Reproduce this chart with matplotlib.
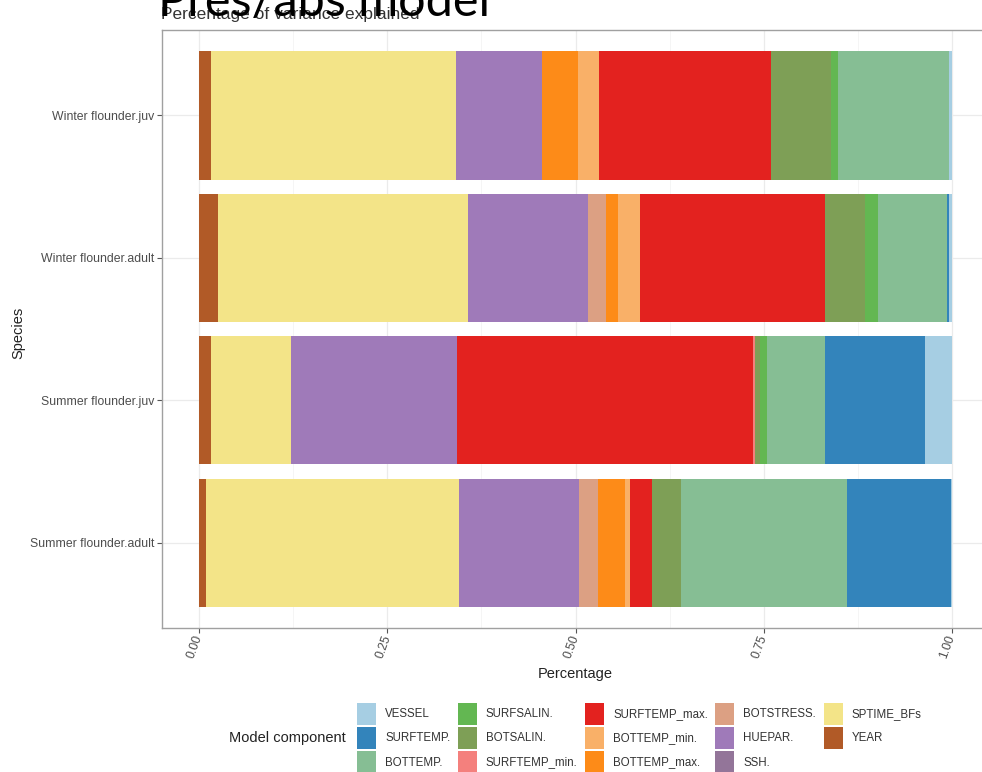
import matplotlib
matplotlib.use("Agg")
import matplotlib.pyplot as plt
from matplotlib.patches import Patch
import numpy as np

# ---- data ----
species = ["Winter flounder.juv", "Winter flounder.adult",
           "Summer flounder.juv", "Summer flounder.adult"]
# components in stacking order (left to right)
components = ["YEAR", "SPTIME_BFs", "SSH.", "HUEPAR.", "BOTSTRESS.",
              "BOTTEMP_max.", "BOTTEMP_min.", "SURFTEMP_max.", "SURFTEMP_min.",
              "BOTSALIN.", "SURFSALIN.", "BOTTEMP.", "SURFTEMP.", "VESSEL"]
# values per species: [W.juv, W.adult, S.juv, S.adult]
YEAR          = [0.016, 0.025, 0.015, 0.009]
SPTIME_BFs    = [0.325, 0.332, 0.107, 0.336]
SSH           = [0.000, 0.000, 0.000, 0.000]
HUEPAR        = [0.114, 0.160, 0.221, 0.160]
BOTSTRESS     = [0.000, 0.024, 0.000, 0.025]
BOTTEMP_max   = [0.048, 0.016, 0.000, 0.036]
BOTTEMP_min   = [0.028, 0.029, 0.000, 0.007]
SURFTEMP_max  = [0.229, 0.246, 0.393, 0.028]
SURFTEMP_min  = [0.000, 0.000, 0.003, 0.000]
BOTSALIN      = [0.080, 0.053, 0.006, 0.039]
SURFSALIN     = [0.009, 0.017, 0.009, 0.000]
BOTTEMP       = [0.147, 0.091, 0.077, 0.221]
SURFTEMP      = [0.000, 0.003, 0.134, 0.138]
VESSEL        = [0.004, 0.004, 0.035, 0.001]
values = [YEAR, SPTIME_BFs, SSH, HUEPAR, BOTSTRESS, BOTTEMP_max, BOTTEMP_min,
          SURFTEMP_max, SURFTEMP_min, BOTSALIN, SURFSALIN, BOTTEMP, SURFTEMP, VESSEL]
colors = ["#b15a27", "#f3e488", "#937599", "#9f7ab9", "#dca083",
          "#fd8b18", "#f9b068", "#e3221f", "#f4807d",
          "#7e9f56", "#63b752", "#86be94", "#3384bb", "#a6cee3"]
legend_order = ["VESSEL", "SURFTEMP.", "BOTTEMP.", "SURFSALIN.", "BOTSALIN.",
                "SURFTEMP_min.", "SURFTEMP_max.", "BOTTEMP_min.", "BOTTEMP_max.",
                "BOTSTRESS.", "HUEPAR.", "SSH.", "SPTIME_BFs", "YEAR"]
x_ticks = [0.0, 0.25, 0.5, 0.75, 1.0]
x_ticklabels = ["0.00", "0.25", "0.50", "0.75", "1.00"]

# ---- figure ----
plt.rcParams['font.family'] = ['Liberation Sans', 'DejaVu Sans']
fig = plt.figure(figsize=(9.82, 7.72), dpi=100)
ax = fig.add_axes([161.7/982, 1-628/772, (989.4-161.7)/982, (628-30)/772])

ypos = np.arange(len(species))[::-1]  # top to bottom
left = np.zeros(len(species))
for comp, vals, col in zip(components, values, colors):
    v = np.array(vals)
    ax.barh(ypos, v, left=left, height=0.9, color=col, linewidth=0, zorder=3)
    left += v

ax.set_xlim(-0.05, 1.05)
ax.set_ylim(-0.6, len(species) - 0.4)
ax.set_yticks(ypos)
ax.set_yticklabels(species)
ax.set_xticks(x_ticks)
ax.set_xticklabels(x_ticklabels, rotation=70, ha='right', va='center',
                   rotation_mode='anchor')
ax.set_xticks([0.125, 0.375, 0.625, 0.875], minor=True)
ax.grid(True, which='major', color='#ebebeb', linewidth=0.9, zorder=0)
ax.grid(True, which='minor', axis='x', color='#f4f4f4', linewidth=0.6, zorder=0)
ax.tick_params(axis='both', which='major', colors='#555555', labelcolor='#4d4d4d',
               labelsize=8.8, length=3.5, width=0.8)
ax.tick_params(axis='x', pad=2)
ax.tick_params(axis='y', pad=2)
ax.tick_params(which='minor', length=0)
for s in ax.spines.values():
    s.set_color('#a0a0a0')
    s.set_linewidth(1.0)

ax.set_xlabel("Percentage", fontsize=10.5, color='#222222', labelpad=5)
fig.text(18/982, 1-333/772, "Species", rotation=90, ha='center', va='center',
         fontsize=10.5, color='#222222')

# subtitle and overlay title
fig.text(161/982, 1-14/772, "Percentage of variance explained", ha='left',
         va='center', fontsize=12.5, color='#333333')
fig.text(158/982, 1-16/772, "Pres/abs model", ha='left', va='baseline',
         fontsize=35, color='black', family=['Lato', 'DejaVu Sans'])

# legend
col_map = dict(zip(components, colors))
handles = [Patch(facecolor=col_map[c], edgecolor='none') for c in legend_order]
leg = fig.legend(handles, legend_order, ncol=5, loc='center left',
                 bbox_to_anchor=(357/982, 1-738/772), frameon=False,
                 fontsize=8.3, handlelength=1.65, handleheight=2.57,
                 labelspacing=0.17, handletextpad=0.78, columnspacing=0.65,
                 borderpad=0, borderaxespad=0)
for t in leg.get_texts():
    t.set_color('#333333')
fig.text(229/982, 1-738/772, "Model component", ha='left', va='center',
         fontsize=10.5, color='#222222')

fig.savefig("out.png", dpi=100)
